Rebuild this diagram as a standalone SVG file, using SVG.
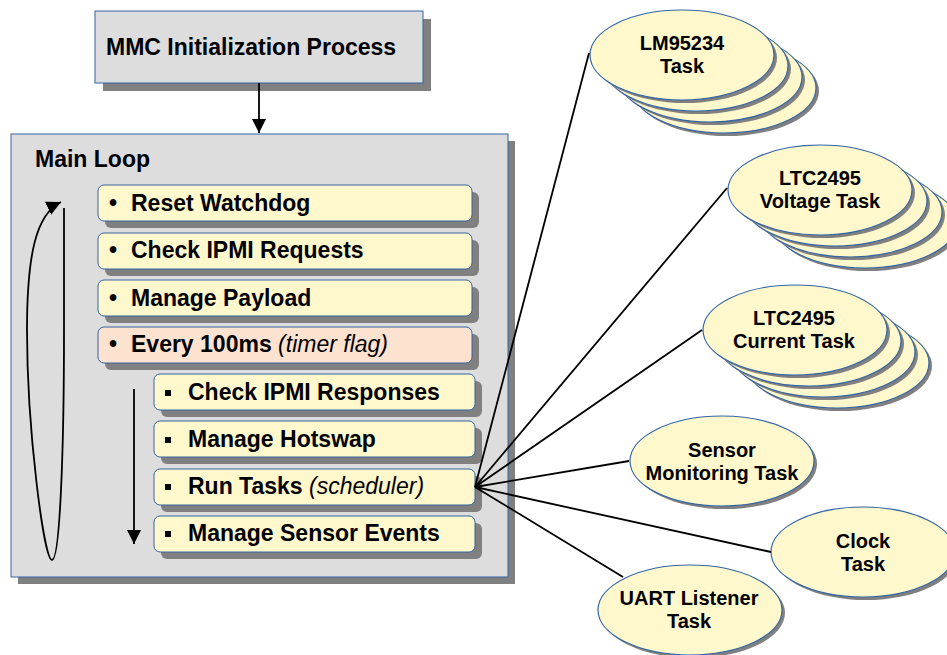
<svg xmlns="http://www.w3.org/2000/svg" width="947" height="655" viewBox="0 0 947 655">
  <defs>
    <style>
      .txt { font-family: 'Liberation Sans', Arial, sans-serif; font-weight: bold; fill: #000; }
      .big { font-size: 23px; }
      .task { font-size: 20px; text-anchor: middle; }
      .it { font-style: italic; font-weight: normal; }
      .panel { fill: #dddddd; stroke: #3465a4; stroke-width: 1; }
      .shadow { fill: #808080; }
      .item { fill: #fff8cc; stroke: #3465a4; stroke-width: 1; }
      .item-hot { fill: #fde3cf; stroke: #3465a4; stroke-width: 1; }
      .ell { fill: #fff8cc; stroke: #3465a4; stroke-width: 1.2; }
      .ell-sh { fill: #808080; }
      .wire { stroke: #000; stroke-width: 1.8; fill: none; }
      .sq { fill: #000; }
    </style>
    <marker id="head" viewBox="0 0 10 10" refX="10" refY="5" markerWidth="8" markerHeight="8" markerUnits="strokeWidth" orient="auto">
      <path d="M0,0 L10,5 L0,10 Z" fill="#000"/>
    </marker>
    <ellipse id="e" cx="0" cy="0" rx="92" ry="45"/>
  </defs>

  <rect width="947" height="655" fill="#fff"/>

  <!-- start-up block -->
  <g id="init">
    <rect class="shadow" x="103" y="19" width="328" height="72"/>
    <rect class="panel" x="95" y="11" width="328" height="72"/>
    <text class="txt big" x="106" y="55">MMC Initialization Process</text>
  </g>

  <!-- main loop frame -->
  <g id="main-loop">
    <rect class="shadow" x="18" y="141" width="497" height="443"/>
    <rect class="panel" x="11" y="134" width="497" height="443"/>
    <text class="txt big" x="35" y="167">Main Loop</text>
  </g>

  <g id="reset-watchdog">
    <rect class="shadow" x="105" y="192" width="374" height="36" rx="6"/>
    <rect class="item" x="98" y="185" width="374" height="36" rx="6"/>
    <text class="txt big" x="113" y="211" text-anchor="middle">•</text>
    <text class="txt big" x="131" y="211">Reset Watchdog</text>
  </g>
  <g id="check-ipmi-requests">
    <rect class="shadow" x="105" y="240" width="374" height="36" rx="6"/>
    <rect class="item" x="98" y="233" width="374" height="36" rx="6"/>
    <text class="txt big" x="113" y="258" text-anchor="middle">•</text>
    <text class="txt big" x="131" y="258">Check IPMI Requests</text>
  </g>
  <g id="manage-payload">
    <rect class="shadow" x="105" y="287" width="374" height="36" rx="6"/>
    <rect class="item" x="98" y="280" width="374" height="36" rx="6"/>
    <text class="txt big" x="113" y="306" text-anchor="middle">•</text>
    <text class="txt big" x="131" y="306">Manage Payload</text>
  </g>
  <g id="every-100ms">
    <rect class="shadow" x="105" y="334" width="374" height="36" rx="6"/>
    <rect class="item-hot" x="98" y="327" width="374" height="36" rx="6"/>
    <text class="txt big" x="113" y="352" text-anchor="middle">•</text>
    <text class="txt big" x="131" y="352">Every 100ms <tspan class="it">(timer flag)</tspan></text>
  </g>

  <g id="check-ipmi-responses">
    <rect class="shadow" x="161" y="381" width="321" height="36" rx="6"/>
    <rect class="item" x="154" y="374" width="321" height="36" rx="6"/>
    <rect class="sq" x="165" y="390" width="6" height="6"/>
    <text class="txt big" x="188" y="400">Check IPMI Responses</text>
  </g>
  <g id="manage-hotswap">
    <rect class="shadow" x="161" y="428" width="321" height="36" rx="6"/>
    <rect class="item" x="154" y="421" width="321" height="36" rx="6"/>
    <rect class="sq" x="165" y="437" width="6" height="6"/>
    <text class="txt big" x="188" y="447">Manage Hotswap</text>
  </g>
  <g id="run-tasks">
    <rect class="shadow" x="161" y="476" width="321" height="36" rx="6"/>
    <rect class="item" x="154" y="469" width="321" height="36" rx="6"/>
    <rect class="sq" x="165" y="484" width="6" height="6"/>
    <text class="txt big" x="188" y="494">Run Tasks <tspan class="it">(scheduler)</tspan></text>
  </g>
  <g id="manage-sensor-events">
    <rect class="shadow" x="161" y="523" width="321" height="36" rx="6"/>
    <rect class="item" x="154" y="516" width="321" height="36" rx="6"/>
    <rect class="sq" x="165" y="531" width="6" height="6"/>
    <text class="txt big" x="188" y="541">Manage Sensor Events</text>
  </g>

  <!-- task bubbles -->
  <g id="lm95234-task">
    <use href="#e" class="ell-sh" x="727" y="91"/><use href="#e" class="ell" x="724" y="88"/>
    <use href="#e" class="ell-sh" x="713" y="80"/><use href="#e" class="ell" x="710" y="77"/>
    <use href="#e" class="ell-sh" x="699" y="69"/><use href="#e" class="ell" x="696" y="66"/>
    <use href="#e" class="ell-sh" x="685" y="58"/><use href="#e" class="ell" x="682" y="55"/>
    <text class="txt task" x="682" y="50">LM95234</text>
    <text class="txt task" x="682" y="73">Task</text>
  </g>
  <g id="ltc2495-voltage-task">
    <use href="#e" class="ell-sh" x="868" y="226"/><use href="#e" class="ell" x="865" y="223"/>
    <use href="#e" class="ell-sh" x="853" y="215"/><use href="#e" class="ell" x="850" y="212"/>
    <use href="#e" class="ell-sh" x="838" y="204"/><use href="#e" class="ell" x="835" y="201"/>
    <use href="#e" class="ell-sh" x="823" y="193"/><use href="#e" class="ell" x="820" y="190"/>
    <text class="txt task" x="820" y="185">LTC2495</text>
    <text class="txt task" x="820" y="208">Voltage Task</text>
  </g>
  <g id="ltc2495-current-task">
    <use href="#e" class="ell-sh" x="840" y="366"/><use href="#e" class="ell" x="837" y="363"/>
    <use href="#e" class="ell-sh" x="826" y="355"/><use href="#e" class="ell" x="823" y="352"/>
    <use href="#e" class="ell-sh" x="812" y="344"/><use href="#e" class="ell" x="809" y="341"/>
    <use href="#e" class="ell-sh" x="798" y="333"/><use href="#e" class="ell" x="795" y="330"/>
    <text class="txt task" x="794" y="325">LTC2495</text>
    <text class="txt task" x="794" y="348">Current Task</text>
  </g>
  <g id="sensor-monitoring-task">
    <use href="#e" class="ell-sh" x="725" y="464"/><use href="#e" class="ell" x="722" y="461"/>
    <text class="txt task" x="722" y="457">Sensor</text>
    <text class="txt task" x="722" y="480">Monitoring Task</text>
  </g>
  <g id="clock-task">
    <use href="#e" class="ell-sh" x="866" y="555"/><use href="#e" class="ell" x="863" y="552"/>
    <text class="txt task" x="863" y="548">Clock</text>
    <text class="txt task" x="863" y="571">Task</text>
  </g>
  <g id="uart-listener-task">
    <use href="#e" class="ell-sh" x="693" y="613"/><use href="#e" class="ell" x="690" y="610"/>
    <text class="txt task" x="689" y="605">UART Listener</text>
    <text class="txt task" x="689" y="628">Task</text>
  </g>

  <!-- connectors -->
  <g id="connectors">
    <line class="wire" x1="259" y1="83" x2="259" y2="133" marker-end="url(#head)"/>
    <path class="wire" d="M64,208 L64,330 C64,450 60,560 52,560 C44,560 27,430 27,330 C27,255 36,214 61,202" marker-end="url(#head)"/>
    <line class="wire" x1="134" y1="389" x2="134" y2="544" marker-end="url(#head)"/>
    <line class="wire" x1="475" y1="487" x2="589" y2="53"/>
    <line class="wire" x1="475" y1="487" x2="727" y2="188"/>
    <line class="wire" x1="475" y1="487" x2="702" y2="330"/>
    <line class="wire" x1="475" y1="487" x2="629" y2="461"/>
    <line class="wire" x1="475" y1="487" x2="771" y2="552"/>
    <line class="wire" x1="475" y1="487" x2="623" y2="577"/>
  </g>
</svg>
